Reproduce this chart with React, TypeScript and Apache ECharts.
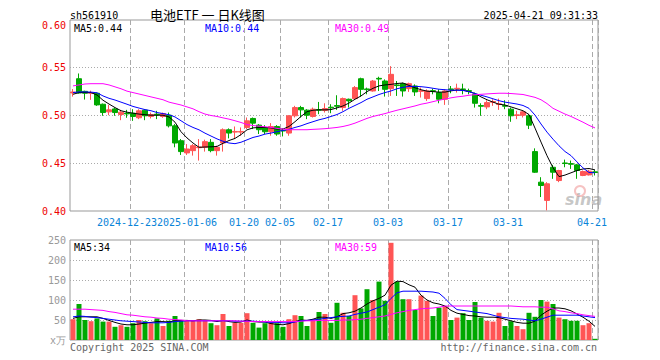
import React, { useEffect, useRef } from "react";
import * as echarts from "echarts";

const dates = [
  "2024-12-09","2024-12-10","2024-12-11","2024-12-12","2024-12-13","2024-12-16","2024-12-17","2024-12-18","2024-12-19","2024-12-20",
  "2024-12-23","2024-12-24","2024-12-25","2024-12-26","2024-12-27","2024-12-30","2024-12-31","2025-01-02","2025-01-03","2025-01-06",
  "2025-01-07","2025-01-08","2025-01-09","2025-01-10","2025-01-13","2025-01-14","2025-01-15","2025-01-16","2025-01-17","2025-01-20",
  "2025-01-21","2025-01-22","2025-01-23","2025-01-24","2025-01-27","2025-02-05","2025-02-06","2025-02-07","2025-02-10","2025-02-11",
  "2025-02-12","2025-02-13","2025-02-14","2025-02-17","2025-02-18","2025-02-19","2025-02-20","2025-02-21","2025-02-24","2025-02-25",
  "2025-02-26","2025-02-27","2025-02-28","2025-03-03","2025-03-04","2025-03-05","2025-03-06","2025-03-07","2025-03-10","2025-03-11",
  "2025-03-12","2025-03-13","2025-03-14","2025-03-17","2025-03-18","2025-03-19","2025-03-20","2025-03-21","2025-03-24","2025-03-25",
  "2025-03-26","2025-03-27","2025-03-28","2025-03-31","2025-04-01","2025-04-02","2025-04-03","2025-04-07","2025-04-08","2025-04-09",
  "2025-04-10","2025-04-11","2025-04-14","2025-04-15","2025-04-16","2025-04-17","2025-04-18","2025-04-21"
];

const tickDates = ["2024-12-23","2025-01-06","2025-01-20","2025-02-05","2025-02-17","2025-03-03","2025-03-17","2025-03-31","2025-04-21"];
const tickLabels = ["2024-12-23","2025-01-06","01-20","02-05","02-17","03-03","03-17","03-31","04-21"];

const open = [
  0.5236,0.5385,0.5253,0.5233,0.5233,0.5118,0.5038,0.5069,0.5010,0.5024,
  0.5024,0.4976,0.5056,0.4990,0.5014,0.4990,0.5003,0.4892,0.4736,0.4608,
  0.4632,0.4663,0.4667,0.4719,0.4632,0.4712,0.4851,0.4826,0.4826,0.4875,
  0.4969,0.4899,0.4875,0.4830,0.4885,0.4843,0.4816,0.4997,0.5083,0.5056,
  0.4990,0.5062,0.5052,0.5087,0.5104,0.5083,0.5170,0.5177,0.5385,0.5278,
  0.5257,0.5389,0.5361,0.5281,0.5320,0.5333,0.5281,0.5309,0.5253,0.5177,
  0.5260,0.5240,0.5170,0.5278,0.5278,0.5278,0.5260,0.5222,0.5104,0.5090,
  0.5139,0.5115,0.5104,0.5066,0.5000,0.5003,0.4997,0.4622,0.4302,0.4111,
  0.4458,0.4319,0.4503,0.4496,0.4483,0.4372,0.4378,0.4410
];
const close = [
  0.5246,0.5236,0.5233,0.5240,0.5111,0.5031,0.5059,0.5031,0.5035,0.5017,
  0.4990,0.5049,0.4997,0.5010,0.5007,0.5021,0.4892,0.4712,0.4622,0.4649,
  0.4684,0.4670,0.4726,0.4632,0.4667,0.4851,0.4816,0.4833,0.4833,0.4944,
  0.4920,0.4851,0.4830,0.4885,0.4806,0.4838,0.4997,0.5083,0.5059,0.5003,
  0.5066,0.5056,0.5073,0.5080,0.5097,0.5177,0.5153,0.5292,0.5274,0.5271,
  0.5361,0.5382,0.5274,0.5431,0.5313,0.5257,0.5333,0.5247,0.5260,0.5257,
  0.5253,0.5170,0.5257,0.5271,0.5285,0.5271,0.5253,0.5128,0.5097,0.5135,
  0.5146,0.5122,0.5097,0.4997,0.5007,0.5038,0.4899,0.4406,0.4267,0.4285,
  0.4406,0.4424,0.4497,0.4490,0.4424,0.4413,0.4417,0.4403
];
const low = [
  0.5198,0.5230,0.5167,0.5164,0.5101,0.4997,0.5003,0.4997,0.4951,0.4976,
  0.4944,0.4962,0.4951,0.4969,0.4962,0.4976,0.4875,0.4667,0.4587,0.4587,
  0.4580,0.4528,0.4622,0.4615,0.4580,0.4622,0.4760,0.4753,0.4788,0.4858,
  0.4858,0.4806,0.4806,0.4788,0.4788,0.4781,0.4788,0.4979,0.4979,0.4962,
  0.4979,0.5014,0.5031,0.5024,0.5059,0.5049,0.5083,0.5170,0.5198,0.5222,
  0.5250,0.5257,0.5198,0.5205,0.5205,0.5198,0.5247,0.5205,0.5188,0.5153,
  0.5222,0.5128,0.5111,0.5233,0.5240,0.5222,0.5222,0.5083,0.4997,0.5066,
  0.5101,0.5059,0.5066,0.4934,0.4962,0.4979,0.4858,0.4399,0.4146,0.4007,
  0.4337,0.4302,0.4458,0.4441,0.4337,0.4365,0.4372,0.4372
];
const high = [
  0.5277,0.5440,0.5260,0.5260,0.5240,0.5125,0.5111,0.5083,0.5059,0.5059,
  0.5066,0.5066,0.5066,0.5031,0.5049,0.5031,0.5031,0.4910,0.4753,0.4701,
  0.4701,0.4753,0.4747,0.4753,0.4684,0.4865,0.4865,0.4885,0.4875,0.4979,
  0.4979,0.4910,0.4899,0.4920,0.4899,0.4865,0.5003,0.5101,0.5101,0.5066,
  0.5083,0.5142,0.5128,0.5118,0.5212,0.5188,0.5177,0.5309,0.5396,0.5292,
  0.5372,0.5406,0.5378,0.5517,0.5361,0.5344,0.5344,0.5326,0.5292,0.5274,
  0.5281,0.5274,0.5274,0.5309,0.5333,0.5333,0.5281,0.5240,0.5128,0.5160,
  0.5170,0.5177,0.5160,0.5083,0.5049,0.5049,0.5014,0.4656,0.4354,0.4302,
  0.4483,0.4431,0.4538,0.4528,0.4493,0.4424,0.4431,0.4431
];

const ma5 = [
  0.5222,0.5240,0.5240,0.5240,0.5215,0.5160,0.5120,0.5083,0.5050,0.5035,
  0.5024,0.5015,0.5008,0.5003,0.5003,0.5003,0.4985,0.4930,0.4830,0.4765,
  0.4712,0.4667,0.4670,0.4672,0.4676,0.4709,0.4738,0.4760,0.4800,0.4850,
  0.4870,0.4875,0.4875,0.4870,0.4858,0.4858,0.4885,0.4935,0.4990,0.5040,
  0.5055,0.5059,0.5059,0.5062,0.5080,0.5100,0.5130,0.5170,0.5205,0.5250,
  0.5285,0.5310,0.5320,0.5326,0.5335,0.5340,0.5315,0.5290,0.5270,0.5255,
  0.5250,0.5245,0.5245,0.5258,0.5267,0.5265,0.5250,0.5230,0.5195,0.5165,
  0.5140,0.5118,0.5110,0.5090,0.5070,0.5050,0.5010,0.4868,0.4722,0.4579,
  0.4453,0.4360,0.4376,0.4400,0.4424,0.4440,0.4445,0.4430
];
const ma10 = [
  0.5240,0.5247,0.5247,0.5245,0.5238,0.5205,0.5180,0.5162,0.5140,0.5118,
  0.5095,0.5078,0.5062,0.5050,0.5031,0.5020,0.5008,0.4985,0.4945,0.4905,
  0.4875,0.4850,0.4815,0.4785,0.4755,0.4730,0.4712,0.4705,0.4720,0.4745,
  0.4770,0.4785,0.4805,0.4816,0.4830,0.4843,0.4855,0.4875,0.4892,0.4915,
  0.4935,0.4955,0.4970,0.4990,0.5010,0.5040,0.5075,0.5105,0.5135,0.5170,
  0.5195,0.5220,0.5240,0.5257,0.5280,0.5295,0.5305,0.5305,0.5302,0.5295,
  0.5285,0.5275,0.5270,0.5265,0.5265,0.5262,0.5250,0.5230,0.5212,0.5195,
  0.5175,0.5155,0.5140,0.5130,0.5120,0.5105,0.5075,0.5004,0.4911,0.4826,
  0.4752,0.4683,0.4623,0.4580,0.4514,0.4451,0.4403,0.4400
];
const ma30 = [
  0.5310,0.5320,0.5330,0.5333,0.5333,0.5333,0.5320,0.5300,0.5280,0.5255,
  0.5240,0.5225,0.5210,0.5195,0.5180,0.5165,0.5140,0.5125,0.5110,0.5090,
  0.5070,0.5040,0.5015,0.5000,0.4990,0.4975,0.4962,0.4945,0.4927,0.4905,
  0.4895,0.4888,0.4882,0.4875,0.4865,0.4858,0.4851,0.4851,0.4851,0.4851,
  0.4855,0.4858,0.4862,0.4868,0.4875,0.4885,0.4900,0.4920,0.4945,0.4970,
  0.4990,0.5005,0.5020,0.5038,0.5055,0.5070,0.5085,0.5100,0.5118,0.5130,
  0.5145,0.5160,0.5172,0.5185,0.5195,0.5202,0.5212,0.5218,0.5222,0.5226,
  0.5230,0.5233,0.5233,0.5230,0.5225,0.5220,0.5205,0.5190,0.5165,0.5125,
  0.5075,0.5045,0.5015,0.4990,0.4960,0.4930,0.4897,0.4870
];

const volume = [
  52,90,50,47,54,46,46,33,37,33,
  42,50,47,42,54,35,48,60,50,50,
  50,52,50,42,37,65,35,43,43,67,
  43,31,42,43,42,33,52,62,60,35,
  52,70,65,43,93,68,60,112,79,127,
  100,146,98,243,146,102,102,75,111,98,
  60,81,85,50,56,67,50,95,56,48,
  46,68,35,47,35,27,68,58,100,96,
  90,56,52,48,48,37,42,3
];
const volMa5 = [
  54,58,58,58,58,54,49,44,40,38,
  38,40,42,44,46,46,45,48,49,49,
  48,50,50,49,46,49,46,44,45,50,
  46,45,45,41,39,38,41,46,50,49,
  52,57,57,54,58,66,68,72,80,90,
  98,104,112,137,147,146,138,132,112,100,
  93,90,85,74,67,64,61,60,58,57,
  57,56,52,48,44,42,42,47,62,72,
  80,80,78,73,65,57,47,34
];
const volMa10 = [
  58,60,59,57,56,54,52,50,48,47,
  46,45,44,43,43,43,44,46,47,48,
  48,48,48,48,48,48,48,47,47,47,
  47,46,45,44,44,43,43,45,48,49,
  50,52,54,56,58,59,60,64,67,70,
  76,82,88,104,118,122,122,122,122,121,
  120,117,104,88,76,74,72,70,68,66,
  62,58,56,54,53,52,50,48,52,57,
  62,62,62,62,62,60,58,56
];
const volMa30 = [
  77,77,77,76,75,74,71,69,66,63,
  62,60,58,57,55,54,52,51,50,48,
  48,48,48,48,48,48,48,48,47,47,
  46,46,46,46,46,46,46,46,47,48,
  48,49,49,49,49,50,50,51,52,54,
  56,58,60,64,68,71,74,76,78,79,
  80,82,85,85,85,85,85,85,85,85,
  85,85,85,85,84,83,83,83,82,82,
  78,73,71,68,66,63,61,59
];

const RED = "#ff5555";
const GREEN = "#00a800";
const MONO = "DejaVu Sans Mono";

export default function App() {
  const ref = useRef<HTMLDivElement>(null);

  useEffect(() => {
    document.body.style.margin = "0";
    const chart = echarts.init(ref.current!, null, { renderer: "svg" });

    const tickIdx = (i: number) => tickDates.indexOf(dates[i]);
    const isTick = (i: number) => tickIdx(i) >= 0;
    // ticks split over two overlaid axes so that adjacent labels may sit side by side
    const isEvenTick = (i: number) => { const j = tickIdx(i); return j >= 0 && j % 2 === 0; };
    const isOddTick = (i: number) => { const j = tickIdx(i); return j >= 0 && j % 2 === 1; };
    const fmt = (v: string) => {
      const j = tickDates.indexOf(v);
      if (j < 0) return "";
      if (j === 0) return `{l|${tickLabels[j]}}`;
      if (j === 1) return `{r|${tickLabels[j]}}`;
      return tickLabels[j];
    };

    const candleData = dates.map((_, i) => [open[i], close[i], low[i], high[i]]);
    const volData = volume.map((v, i) => ({
      value: v,
      itemStyle: { color: close[i] >= open[i] ? RED : GREEN },
    }));
    const last = (a: number[]) => a[a.length - 1];

    const splitX = {
      show: true,
      interval: (i: number) => isTick(i),
      lineStyle: { color: "#aaaaaa", type: [5, 3], width: 1 },
    };
    const splitY = {
      show: true,
      showMinLine: false,
      showMaxLine: false,
      lineStyle: { color: "#aaaaaa", type: [1, 2], width: 1 },
    };
    const richBase = { color: "#0a84d8", fontFamily: MONO, fontSize: 10 };
    const labelStyle = {
      formatter: fmt,
      hideOverlap: false, showMinLabel: true, showMaxLabel: true,
      color: "#0a84d8", fontFamily: MONO, fontSize: 10, margin: 6, padding: [0, 6, 0, 0],
      rich: {
        l: { ...richBase, padding: [0, 6, 0, 0] },
        r: { ...richBase, padding: [0, 0, 0, 6] },
      },
    };

    const txt = (x: number, y: number, text: string, fill: string, extra: any = {}) => ({
      type: "text",
      x,
      y,
      silent: true,
      style: { text, fill, font: `10px '${MONO}'`, verticalAlign: "middle", ...extra },
    });

    chart.setOption({
      animation: false,
      backgroundColor: "#ffffff",
      textStyle: { fontFamily: MONO },
      grid: [
        { left: 70, top: 20, width: 528, height: 191, show: true, borderColor: "#999999", borderWidth: 1, backgroundColor: "transparent" },
        { left: 70, top: 240, width: 528, height: 100, show: true, borderColor: "#999999", borderWidth: 1, backgroundColor: "transparent" },
      ],
      xAxis: [
        {
          type: "category", gridIndex: 0, position: "bottom", data: dates, boundaryGap: true,
          axisLine: { show: false }, axisTick: { show: false },
          axisLabel: { ...labelStyle, interval: (i: number) => isEvenTick(i) },
          splitLine: splitX,
        },
        {
          type: "category", gridIndex: 1, data: dates, boundaryGap: true,
          axisLine: { show: false }, axisTick: { show: false }, axisLabel: { show: false },
          splitLine: splitX,
        },
        {
          type: "category", gridIndex: 0, position: "bottom", offset: 0, data: dates, boundaryGap: true,
          axisLine: { show: false }, axisTick: { show: false },
          axisLabel: { ...labelStyle, interval: (i: number) => isOddTick(i) },
          splitLine: { show: false },
        },
      ],
      yAxis: [
        {
          type: "value", gridIndex: 0, min: 0.4, max: 0.6, interval: 0.05,
          axisLine: { show: false }, axisTick: { show: false },
          axisLabel: { color: "#ee0000", fontFamily: MONO, fontSize: 10, margin: 4, formatter: (v: number) => v.toFixed(2), verticalAlignMaxLabel: "top" },
          splitLine: splitY,
        },
        {
          type: "value", gridIndex: 1, min: 0, max: 250, interval: 50,
          axisLine: { show: false }, axisTick: { show: false },
          axisLabel: { color: "#999999", fontFamily: MONO, fontSize: 10, margin: 4, formatter: (v: number) => (v === 0 ? "x万" : String(v)) },
          splitLine: splitY,
        },
      ],
      series: [
        {
          type: "candlestick", xAxisIndex: 0, yAxisIndex: 0, data: candleData, barWidth: 5,
          itemStyle: { color: RED, color0: GREEN, borderColor: RED, borderColor0: GREEN, borderWidth: 1 },
        },
        { type: "line", xAxisIndex: 0, yAxisIndex: 0, data: ma5, symbol: "none", lineStyle: { color: "#000000", width: 1 }, z: 5 },
        { type: "line", xAxisIndex: 0, yAxisIndex: 0, data: ma10, symbol: "none", lineStyle: { color: "#0000ff", width: 1 }, z: 5 },
        { type: "line", xAxisIndex: 0, yAxisIndex: 0, data: ma30, symbol: "none", lineStyle: { color: "#ff00ff", width: 1 }, z: 5 },
        { type: "bar", xAxisIndex: 1, yAxisIndex: 1, data: volData, barWidth: 5 },
        { type: "line", xAxisIndex: 1, yAxisIndex: 1, data: volMa5, symbol: "none", lineStyle: { color: "#000000", width: 1 }, z: 5 },
        { type: "line", xAxisIndex: 1, yAxisIndex: 1, data: volMa10, symbol: "none", lineStyle: { color: "#0000ff", width: 1 }, z: 5 },
        { type: "line", xAxisIndex: 1, yAxisIndex: 1, data: volMa30, symbol: "none", lineStyle: { color: "#ff00ff", width: 1 }, z: 5 },
      ],
      graphic: [
        txt(70, 15, "sh561910", "#000000"),
        {
          type: "text", x: 150, y: 14, silent: true,
          style: { text: "电池ETF 一 日K线图", fill: "#000000", font: "13px 'Noto Sans CJK SC'", verticalAlign: "middle" },
        },
        txt(598, 15, "2025-04-21 09:31:33", "#000000", { align: "right" }),
        txt(74, 28, `MA5:${last(ma5).toFixed(2)}`, "#000000"),
        txt(205, 28, `MA10:${last(ma10).toFixed(2)}`, "#0000ff"),
        txt(335, 28, `MA30:${last(ma30).toFixed(2)}`, "#ff00ff"),
        txt(74, 247, `MA5:${Math.round(last(volMa5))}`, "#000000"),
        txt(205, 247, `MA10:${Math.round(last(volMa10))}`, "#0000ff"),
        txt(335, 247, `MA30:${Math.round(last(volMa30))}`, "#ff00ff"),
        txt(70, 347, "Copyright 2025 SINA.COM", "#666666"),
        txt(597, 347, "http://finance.sina.com.cn", "#666666", { align: "right" }),
        {
          type: "group", silent: true, z: 1,
          children: [
            { type: "circle", shape: { cx: 580, cy: 191, r: 5 }, style: { fill: "none", stroke: "rgba(230,80,80,0.35)", lineWidth: 2 } },
            {
              type: "text", x: 565, y: 199,
              style: { text: "sina", fill: "rgba(150,150,150,0.55)", font: "italic bold 16px 'DejaVu Sans'", verticalAlign: "middle" },
            },
          ],
        },
      ],
    });

    return () => chart.dispose();
  }, []);

  return <div ref={ref} style={{ width: 660, height: 360 }} />;
}
